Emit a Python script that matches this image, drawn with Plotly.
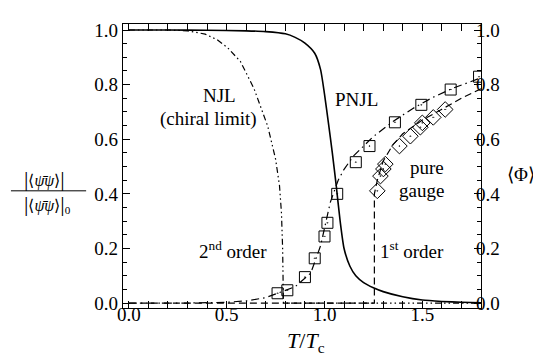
import plotly.graph_objects as go

# PNJL chiral condensate (solid)
pnjl_T = [0.0, 0.2, 0.4, 0.6, 0.7, 0.8, 0.85, 0.9, 0.95, 0.98, 1.0, 1.02, 1.04, 1.06, 1.08,
          1.1, 1.13, 1.16, 1.2, 1.25, 1.3, 1.4, 1.5, 1.6, 1.7, 1.8]
pnjl_sigma = [1.0, 1.0, 0.999, 0.997, 0.994, 0.986, 0.973, 0.952, 0.915, 0.855, 0.765, 0.66,
              0.55, 0.43, 0.3, 0.2, 0.135, 0.1, 0.075, 0.056, 0.042, 0.023, 0.011, 0.006, 0.003, 0.001]

# NJL chiral limit (dash-dot-dot)
njl_T = [0.0, 0.2, 0.3, 0.39, 0.45, 0.505, 0.57, 0.64, 0.71, 0.75, 0.77, 0.78, 0.786, 0.789, 0.79, 1.8]
njl_sigma = [1.0, 1.0, 0.997, 0.985, 0.965, 0.935, 0.885, 0.785, 0.647, 0.527, 0.43, 0.33, 0.2, 0.08, 0.0, 0.0]

# PNJL Polyakov loop (dash-dot)
phi_T = [0.0, 0.3, 0.5, 0.6, 0.7, 0.76, 0.85, 0.93, 0.98, 1.03, 1.07, 1.1, 1.15, 1.2,
         1.25, 1.35, 1.45, 1.55, 1.65, 1.8]
phi_val = [0.0, 0.0, 0.003, 0.008, 0.02, 0.036, 0.06, 0.11, 0.21, 0.37, 0.45, 0.49, 0.54, 0.575,
           0.61, 0.665, 0.712, 0.752, 0.785, 0.825]

# pure gauge Polyakov loop (dashed)
pg_T = [0.0, 1.255, 1.255, 1.27, 1.3, 1.35, 1.4, 1.5, 1.6, 1.7, 1.8]
pg_val = [0.0, 0.0, 0.40, 0.45, 0.52, 0.58, 0.62, 0.67, 0.71, 0.75, 0.785]

# lattice data, full QCD (squares)
sq_T = [0.76, 0.81, 0.90, 0.95, 1.00, 1.015, 1.065, 1.16, 1.23, 1.36, 1.495, 1.645, 1.79]
sq_val = [0.036, 0.047, 0.095, 0.164, 0.244, 0.294, 0.400, 0.516, 0.575, 0.662, 0.726, 0.782, 0.829]

# lattice data, pure gauge (diamonds)
dm_T = [1.27, 1.286, 1.301, 1.311, 1.383, 1.439, 1.49, 1.5, 1.556, 1.617]
dm_val = [0.411, 0.465, 0.491, 0.509, 0.575, 0.611, 0.644, 0.66, 0.68, 0.709]

x_ticks = [0.0, 0.5, 1.0, 1.5]
x_ticklabels = ["0.0", "0.5", "1.0", "1.5"]
y_ticks = [0.0, 0.2, 0.4, 0.6, 0.8, 1.0]
y_ticklabels = ["0.0", "0.2", "0.4", "0.6", "0.8", "1.0"]

FONT = "Liberation Serif"
fig = go.Figure()

fig.add_trace(go.Scatter(x=pnjl_T, y=pnjl_sigma, mode="lines",
                         line=dict(color="black", width=1.6, shape="spline", smoothing=0.6),
                         showlegend=False))
fig.add_trace(go.Scatter(x=njl_T, y=njl_sigma, mode="lines",
                         line=dict(color="black", width=1.2, dash="6px,3px,1.5px,3px,1.5px,3px"),
                         showlegend=False))
fig.add_trace(go.Scatter(x=phi_T, y=phi_val, mode="lines", yaxis="y2",
                         line=dict(color="black", width=1.2, dash="8px,4px,1.5px,4px"),
                         showlegend=False))
fig.add_trace(go.Scatter(x=pg_T, y=pg_val, mode="lines", yaxis="y2",
                         line=dict(color="black", width=1.2, dash="7px,4px"),
                         showlegend=False))
fig.add_trace(go.Scatter(x=sq_T, y=sq_val, mode="markers", yaxis="y2",
                         marker=dict(symbol="square-open-dot", size=11, color="black",
                                     line=dict(color="black", width=1)),
                         showlegend=False))
fig.add_trace(go.Scatter(x=dm_T, y=dm_val, mode="markers", yaxis="y2",
                         marker=dict(symbol="diamond-open-dot", size=12, color="black",
                                     line=dict(color="black", width=1)),
                         showlegend=False))

axis_common = dict(showgrid=False, zeroline=False, showline=True, linecolor="black",
                   linewidth=1.2, ticks="inside", ticklen=7, tickcolor="black", tickwidth=1,
                   tickfont=dict(family=FONT, size=19, color="black"))

fig.update_layout(
    width=541, height=358,
    margin=dict(l=115, r=68, t=14, b=58),
    plot_bgcolor="white", paper_bgcolor="white",
    font=dict(family=FONT, size=19, color="black"),
    xaxis=dict(range=[-0.03, 1.8], tickvals=x_ticks, ticktext=x_ticklabels,
               mirror="allticks", ticklabelstandoff=-11,
               minor=dict(dtick=0.1, tick0=0, ticks="inside", ticklen=4, tickcolor="black", showgrid=False),
               **axis_common),
    yaxis=dict(range=[-0.018, 1.022], tickvals=y_ticks, ticktext=y_ticklabels,
               minor=dict(dtick=0.05, tick0=0, ticks="inside", ticklen=4, tickcolor="black", showgrid=False),
               **axis_common),
    yaxis2=dict(range=[-0.018, 1.022], tickvals=y_ticks, ticktext=y_ticklabels,
                overlaying="y", side="right", ticklabelstandoff=-10,
                minor=dict(dtick=0.05, tick0=0, ticks="inside", ticklen=4, tickcolor="black", showgrid=False),
                **axis_common),
)

def txt(x, y, s, size=19, xref="x", yref="y", xanchor="center"):
    fig.add_annotation(x=x, y=y, xref=xref, yref=yref, text=s, showarrow=False,
                       xanchor=xanchor, yanchor="middle",
                       font=dict(family=FONT, size=size, color="black"))

txt(0.464, 0.76, "NJL")
txt(0.408, 0.673, "(chiral limit)")
txt(1.163, 0.745, "PNJL")
txt(0.531, 0.193, "2<sup>nd</sup> order")
txt(1.449, 0.193, "1<sup>st</sup> order")
txt(1.526, 0.498, "pure")
txt(1.495, 0.411, "gauge")

# x axis title
txt(0.51, -0.118, "<i>T</i>/<i>T</i><sub>c</sub>", size=22, xref="paper", yref="paper")

# right axis label
txt(1.113, 0.47, "⟨Φ⟩", size=19, xref="paper", yref="paper")

# left axis label: fraction
big = '<span style="font-size:22px">'
num = big + "|</span>⟨<i>ψ̄ψ</i>⟩" + big + "|</span>"
den = big + "|</span>⟨<i>ψ̄ψ</i>⟩" + big + "|</span><sub>0</sub>"
txt(-0.218, 0.455, num, size=16, xref="paper", yref="paper")
txt(-0.212, 0.368, den, size=16, xref="paper", yref="paper")
fig.add_shape(type="line", xref="paper", yref="paper", x0=-0.313, x1=-0.103,
              y0=0.4126, y1=0.4126, line=dict(color="black", width=1))

fig.write_html("out.html")
